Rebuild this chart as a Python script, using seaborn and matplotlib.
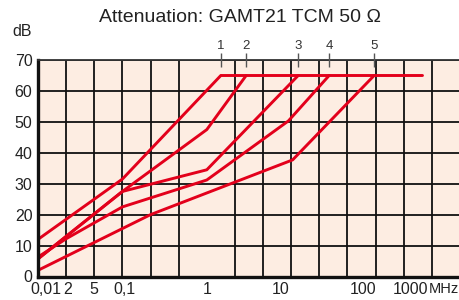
import numpy as np
import pandas as pd
import matplotlib
matplotlib.use("Agg")
import matplotlib.pyplot as plt
import seaborn as sns
from matplotlib import font_manager

# x values are positions on the chart grid (one column = one grid cell,
# 0 = 0.01 MHz, 3 columns per decade as printed on the datasheet)
c1_x = [0, 3.0, 6.5]
c1_db = [12, 31.5, 65]
c2_x = [0, 3.0, 6.0, 7.4]
c2_db = [5.7, 27.5, 47.5, 65]
c3_x = [0, 3.0, 6.0, 9.25]
c3_db = [5.7, 27.5, 34.5, 65]
c4_x = [0, 1.0, 3.0, 6.0, 8.9, 10.35]
c4_db = [6.3, 12.2, 22.5, 31.2, 50.3, 65]
c5_x = [0, 4.0, 9.05, 11.95]
c5_db = [2, 20, 37.7, 65]
plateau_x = [6.5, 13.65]
plateau_db = [65, 65]

curve_names = ["1", "2", "3", "4", "5"]
tick_pos = [0.28, 1.06, 1.99, 3.08, 6.0, 8.62, 11.56, 13.23]
tick_labels = ["0,01", "2", "5", "0,1", "1", "10", "100", "1000"]

rows = []
for name, xs, ys in zip(curve_names,
                        [c1_x, c2_x, c3_x, c4_x, c5_x],
                        [c1_db, c2_db, c3_db, c4_db, c5_db]):
    for x, y in zip(xs, ys):
        rows.append({"curve": name, "x": x, "dB": y})
df = pd.DataFrame(rows)
ends = df.groupby("curve")["x"].max()

sns.set_style("white")
avail = {f.name for f in font_manager.fontManager.ttflist}
fam = "Liberation Sans Narrow" if "Liberation Sans Narrow" in avail else "Liberation Sans"
plt.rcParams["font.family"] = [fam, "DejaVu Sans"]

red = "#e3001b"
fig = plt.figure(figsize=(4.6, 3.0), dpi=100)
ax = fig.add_axes([38 / 460, 23.5 / 300, 422 / 460, 216.5 / 300])
ax.set_facecolor("#fdede2")

sns.lineplot(data=df, x="x", y="dB", units="curve", estimator=None, sort=False,
             color=red, linewidth=2.1, ax=ax, legend=False)
ax.plot(plateau_x, plateau_db, color=red, linewidth=2.1, solid_capstyle="round")

ax.set_xlim(0, 15)
ax.set_ylim(0, 70)
ax.set_xlabel("")
ax.set_ylabel("")

ax.set_xticks(tick_pos)
ax.set_xticklabels(tick_labels, fontsize=11.5)
ax.set_xticks(np.arange(0, 16), minor=True)
ax.set_yticks(np.arange(0, 71, 10))
ax.set_yticklabels([str(v) for v in range(0, 71, 10)], fontsize=11.5)
ax.tick_params(axis="both", which="both", length=0, colors="#222222")
ax.tick_params(axis="x", pad=4)
ax.tick_params(axis="y", pad=4)
ax.grid(axis="x", which="minor", color="#111111", linewidth=1.3)
ax.grid(axis="y", which="major", color="#111111", linewidth=1.3)
ax.set_axisbelow(True)

for s in ["left", "bottom"]:
    ax.spines[s].set_linewidth(2.4)
    ax.spines[s].set_color("#111111")
ax.spines["top"].set_linewidth(1.3)
ax.spines["top"].set_color("#333333")
ax.spines["right"].set_visible(False)

ax.text(14.97, -3.9, "MHz", fontsize=10.5, ha="right", va="center",
        color="#222222", clip_on=False)

ax2 = ax.twiny()
ax2.set_xlim(ax.get_xlim())
ax2.set_xticks(ends.values)
ax2.set_xticklabels(ends.index, fontsize=9.5, color="#333333")
ax2.tick_params(axis="x", direction="inout", length=10, width=1.0,
                color="#555555", pad=1)
for s in ax2.spines.values():
    s.set_visible(False)

fig.text(240 / 460, 1 - 18 / 300, "Attenuation: GAMT21 TCM 50 \u03a9",
         fontsize=14, ha="center", va="center", color="#222222")
fig.text(22 / 460, 1 - 32 / 300, "dB", fontsize=11.5, ha="center",
         va="center", color="#222222")

fig.savefig("out.png", dpi=100)
